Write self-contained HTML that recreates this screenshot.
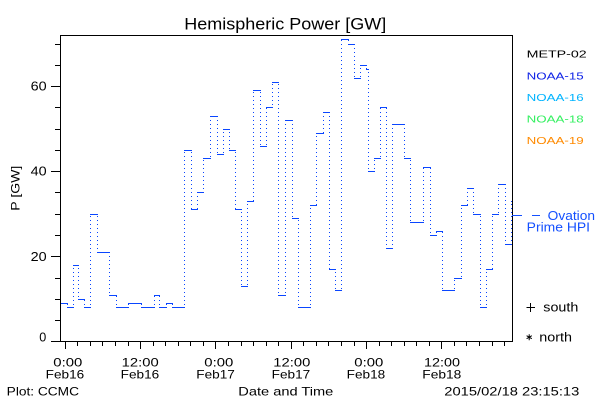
<!DOCTYPE html>
<html><head><meta charset="utf-8"><style>
html,body{margin:0;padding:0;background:#fff;}
svg{display:block;}
text{font-family:"Liberation Sans",sans-serif;}
</style></head><body>
<svg width="600" height="400" viewBox="0 0 600 400" xmlns="http://www.w3.org/2000/svg">
<defs>
<pattern id="dots" patternUnits="userSpaceOnUse" x="0" y="0" width="1" height="4">
<rect x="0" y="0" width="1" height="1" fill="#0a46ff" shape-rendering="crispEdges"/>
</pattern>
</defs>
<rect width="600" height="400" fill="#fff"/>
<text x="184.3" y="29.3" font-size="16.5" textLength="202" lengthAdjust="spacingAndGlyphs" fill="#000">Hemispheric Power [GW]</text>
<g shape-rendering="crispEdges" stroke="#000" stroke-width="1" fill="none">
<rect x="60.5" y="35.5" width="452" height="306"/>
<path d="M51 341.5H60M51 256.5H60M51 171.5H60M51 86.5H60"/>
<path d="M55 320.5H60M55 299.5H60M55 278.5H60M55 235.5H60M55 214.5H60M55 192.5H60M55 150.5H60M55 129.5H60M55 107.5H60M55 65.5H60M55 44.5H60"/>
<path d="M65.5 342V349M140.5 342V349M215.5 342V349M291.5 342V349M366.5 342V349M441.5 342V349"/>
<path d="M77.5 342V346M90.5 342V346M102.5 342V346M115.5 342V346M128.5 342V346M153.5 342V346M165.5 342V346M178.5 342V346M190.5 342V346M203.5 342V346M228.5 342V346M241.5 342V346M253.5 342V346M266.5 342V346M278.5 342V346M303.5 342V346M316.5 342V346M328.5 342V346M341.5 342V346M354.5 342V346M379.5 342V346M391.5 342V346M404.5 342V346M416.5 342V346M429.5 342V346M454.5 342V346M466.5 342V346M479.5 342V346M492.5 342V346M504.5 342V346"/>
</g>
<g fill="#000" font-size="13">
<text x="30.7" y="90.7" textLength="16" lengthAdjust="spacingAndGlyphs">60</text>
<text x="30.7" y="175.7" textLength="16" lengthAdjust="spacingAndGlyphs">40</text>
<text x="30.7" y="261" textLength="16" lengthAdjust="spacingAndGlyphs">20</text>
<text x="39.3" y="341.7" textLength="7" lengthAdjust="spacingAndGlyphs">0</text>
</g>
<text transform="translate(19.5,210.7) rotate(-90)" font-size="12" textLength="45" lengthAdjust="spacingAndGlyphs" fill="#000">P [GW]</text>
<g fill="#000" font-size="12">
<text x="53.3" y="366.7" textLength="29" lengthAdjust="spacingAndGlyphs">0:00</text>
<text x="45.7" y="378.3" textLength="38.5" lengthAdjust="spacingAndGlyphs">Feb16</text>
<text x="121.7" y="366.7" textLength="37" lengthAdjust="spacingAndGlyphs">12:00</text>
<text x="120.7" y="378.3" textLength="38.5" lengthAdjust="spacingAndGlyphs">Feb16</text>
<text x="204.3" y="366.7" textLength="29" lengthAdjust="spacingAndGlyphs">0:00</text>
<text x="196.3" y="378.3" textLength="38.5" lengthAdjust="spacingAndGlyphs">Feb17</text>
<text x="273.3" y="366.7" textLength="37" lengthAdjust="spacingAndGlyphs">12:00</text>
<text x="271.7" y="378.3" textLength="38.5" lengthAdjust="spacingAndGlyphs">Feb17</text>
<text x="354.3" y="366.7" textLength="29" lengthAdjust="spacingAndGlyphs">0:00</text>
<text x="346.7" y="378.3" textLength="38.5" lengthAdjust="spacingAndGlyphs">Feb18</text>
<text x="424" y="366.7" textLength="36" lengthAdjust="spacingAndGlyphs">12:00</text>
<text x="422.3" y="378.3" textLength="39" lengthAdjust="spacingAndGlyphs">Feb18</text>
<text x="6.7" y="395.7" textLength="72.3" lengthAdjust="spacingAndGlyphs">Plot: CCMC</text>
<text x="238.3" y="395.7" textLength="95" lengthAdjust="spacingAndGlyphs">Date and Time</text>
<text x="444.3" y="395.7" textLength="135" lengthAdjust="spacingAndGlyphs">2015/02/18 23:15:13</text>
</g>
<g font-size="10.5">
<text x="526.7" y="57.3" textLength="60" lengthAdjust="spacingAndGlyphs" fill="#000">METP-02</text>
<text x="526.7" y="79.3" textLength="57" lengthAdjust="spacingAndGlyphs" fill="#0a1ee6">NOAA-15</text>
<text x="526.7" y="101" textLength="57" lengthAdjust="spacingAndGlyphs" fill="#00b4ff">NOAA-16</text>
<text x="526.7" y="122.7" textLength="57" lengthAdjust="spacingAndGlyphs" fill="#33f060">NOAA-18</text>
<text x="526.7" y="144" textLength="57" lengthAdjust="spacingAndGlyphs" fill="#ff8a00">NOAA-19</text>
</g>
<path shape-rendering="crispEdges" stroke="#1450ff" fill="none" d="M512 215.5H522M532 215.5H540"/>
<g font-size="12.5" fill="#1450ff">
<text x="547.7" y="220" textLength="47.3" lengthAdjust="spacingAndGlyphs">Ovation</text>
<text x="526.7" y="231.7" textLength="63.3" lengthAdjust="spacingAndGlyphs">Prime HPI</text>
</g>
<g stroke="#000" stroke-width="1" fill="none">
<path shape-rendering="crispEdges" d="M526.5 307.5H535M530.5 303V312"/>
<path d="M529.2 334.2V340.2M526.6 335.7L531.8 338.7M526.6 338.7L531.8 335.7"/>
</g>
<g font-size="12.5" fill="#000">
<text x="543.3" y="311.7" textLength="35" lengthAdjust="spacingAndGlyphs">south</text>
<text x="539.3" y="341.7" textLength="32.7" lengthAdjust="spacingAndGlyphs">north</text>
</g>
<path shape-rendering="crispEdges" stroke="#0a46ff" stroke-width="1" fill="none" d="M61 303.5H68M67 307.5H74M73 265.5H79M78 299.5H85M84 307.5H91M90 214.5H98M97 252.5H110M109 295.5H117M116 307.5H129M128 303.5H142M141 307.5H155M154 295.5H160M159 307.5H167M166 303.5H173M172 307.5H185M184 150.5H192M191 209.5H198M197 192.5H204M203 158.5H211M210 116.5H218M217 154.5H224M223 129.5H230M229 150.5H236M235 209.5H242M241 286.5H248M247 201.5H254M253 90.5H261M260 146.5H267M266 107.5H273M272 82.5H279M278 295.5H286M285 120.5H293M292 218.5H299M298 307.5H311M310 205.5H317M316 133.5H324M323 112.5H330M329 269.5H336M335 290.5H342M341 39.5H349M348 44.5H355M354 78.5H361M360 65.5H367M366 69.5H369M368 171.5H375M374 158.5H381M380 107.5H387M386 248.5H393M392 124.5H405M404 158.5H411M410 222.5H424M423 167.5H431M430 235.5H437M436 231.5H443M442 290.5H455M454 278.5H462M461 205.5H468M467 188.5H474M473 214.5H481M480 307.5H487M486 269.5H493M492 214.5H499M498 184.5H506M505 244.5H512M511 201.5H512"/>
<path fill="url(#dots)" shape-rendering="crispEdges" d="M67 303h1v5h-1zM73 265h1v42h-1zM78 265h1v35h-1zM84 299h1v9h-1zM90 214h1v93h-1zM97 214h1v39h-1zM109 252h1v44h-1zM116 295h1v13h-1zM128 303h1v4h-1zM141 303h1v5h-1zM154 295h1v12h-1zM159 295h1v13h-1zM166 303h1v4h-1zM172 303h1v5h-1zM184 150h1v157h-1zM191 150h1v60h-1zM197 192h1v17h-1zM203 158h1v34h-1zM210 116h1v42h-1zM217 116h1v39h-1zM223 129h1v25h-1zM229 129h1v22h-1zM235 150h1v60h-1zM241 209h1v78h-1zM247 201h1v85h-1zM253 90h1v111h-1zM260 90h1v57h-1zM266 107h1v39h-1zM272 82h1v25h-1zM278 82h1v214h-1zM285 120h1v175h-1zM292 120h1v99h-1zM298 218h1v90h-1zM310 205h1v102h-1zM316 133h1v72h-1zM323 112h1v21h-1zM329 112h1v158h-1zM335 269h1v22h-1zM341 39h1v251h-1zM348 39h1v6h-1zM354 44h1v35h-1zM360 65h1v13h-1zM366 65h1v5h-1zM368 69h1v103h-1zM374 158h1v13h-1zM380 107h1v51h-1zM386 107h1v142h-1zM392 124h1v124h-1zM404 124h1v35h-1zM410 158h1v65h-1zM423 167h1v55h-1zM430 167h1v69h-1zM436 231h1v4h-1zM442 231h1v60h-1zM454 278h1v12h-1zM461 205h1v73h-1zM467 188h1v17h-1zM473 188h1v27h-1zM480 214h1v94h-1zM486 269h1v38h-1zM492 214h1v55h-1zM498 184h1v30h-1zM505 184h1v61h-1zM511 201h1v43h-1z"/>
</svg>
</body></html>
